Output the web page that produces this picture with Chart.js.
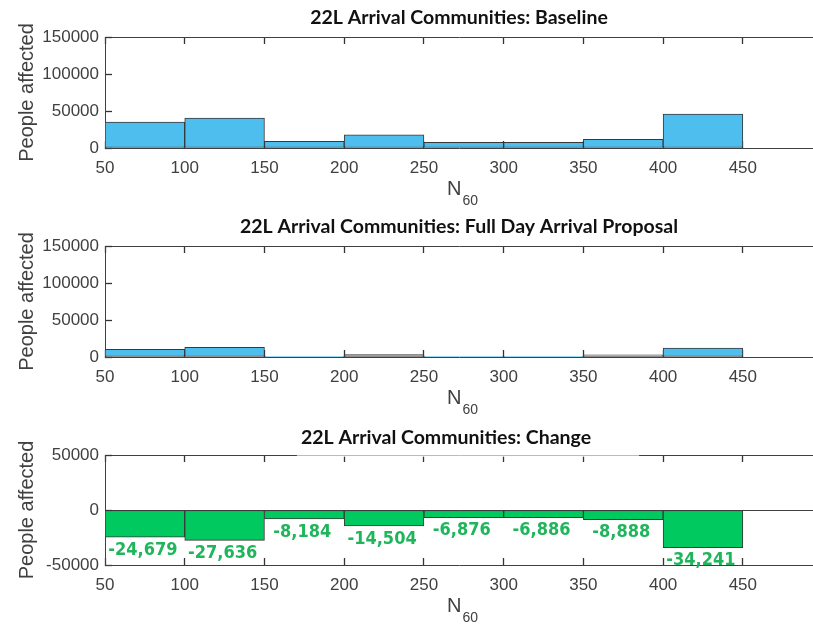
<!DOCTYPE html>
<html><head><meta charset="utf-8">
<script src="https://cdn.jsdelivr.net/npm/chart.js@4.4.1/dist/chart.umd.min.js"></script>
<style>
html,body{margin:0;padding:0;background:#fff;overflow:hidden;}
#wrap{position:relative;width:813px;height:627px;background:#fff;}
canvas{position:absolute;left:0;}
</style></head><body>
<div id="wrap">
<canvas id="c1" width="813" height="210" style="top:0px"></canvas>
<canvas id="c2" width="813" height="208" style="top:210px"></canvas>
<canvas id="c3" width="813" height="209" style="top:418px"></canvas>
</div>
<script>
// ---- data ----
const binCenters = [75, 125, 175, 225, 275, 325, 375, 425, 475];
const baselinePeople = [35000, 40500, 9000, 17800, 7700, 7700, 11800, 46000, 0];
const proposalPeople = [10300, 13200, 800, 3300, 800, 800, 2900, 12000, 0];
const changePeople = [-24679, -27636, -8184, -14504, -6876, -6886, -8888, -34241, 0];
const xTickValues = [50, 100, 150, 200, 250, 300, 350, 400, 450];
const yTicksPeople = [0, 50000, 100000, 150000];
const yTicksChange = [-50000, 0, 50000];
const panelTitles = [
  '22L Arrival Communities: Baseline',
  '22L Arrival Communities: Full Day Arrival Proposal',
  '22L Arrival Communities: Change'
];
const yAxisTitle = 'People affected';
const xAxisTitleMain = 'N';
const xAxisTitleSub = '60';

// ---- styles ----
const AX = '#404040';
const tickFont = {family: 'Liberation Sans, Arial, sans-serif', size: 17};
const titleFont = {family: 'Lato, sans-serif', size: 19.5, weight: 'bold'};

const xLabel = {
  id: 'xLabel',
  afterDraw(chart) {
    const ctx = chart.ctx;
    const a = chart.chartArea;
    const cx = (a.left + a.right) / 2 + 3;
    ctx.save();
    ctx.fillStyle = AX;
    ctx.textBaseline = 'middle';
    ctx.font = '20px "Liberation Sans", Arial, sans-serif';
    const wN = ctx.measureText(xAxisTitleMain).width;
    ctx.font = '14px "Liberation Sans", Arial, sans-serif';
    const wS = ctx.measureText(xAxisTitleSub).width;
    const x0 = cx - (wN + wS) / 2;
    ctx.font = '20px "Liberation Sans", Arial, sans-serif';
    ctx.textAlign = 'left';
    ctx.fillText(xAxisTitleMain, x0, a.bottom + 41);
    ctx.font = '14px "Liberation Sans", Arial, sans-serif';
    ctx.fillText(xAxisTitleSub, x0 + wN + 1, a.bottom + 53);
    ctx.restore();
  }
};

const changeLabels = {
  id: 'changeLabels',
  afterLayout(chart) {
    chart.titleBlock.left -= 13;
    chart.titleBlock.right -= 13;
  },
  afterDatasetsDraw(chart) {
    const ctx = chart.ctx;
    const meta = chart.getDatasetMeta(0);
    ctx.save();
    ctx.fillStyle = '#1fb55a';
    ctx.font = 'bold 18px "DejaVu Sans Condensed", "DejaVu Sans", sans-serif';
    ctx.textAlign = 'center';
    ctx.textBaseline = 'middle';
    meta.data.forEach((bar, i) => {
      const v = changePeople[i];
      if (!v) return;
      ctx.fillText(v.toLocaleString('en-US'), bar.x - 2, bar.y + 13);
    });
    ctx.restore();
  },
  afterDraw(chart) {
    const ctx = chart.ctx;
    const a = chart.chartArea;
    const tb = chart.titleBlock;
    ctx.save();
    ctx.font = 'bold 19.5px Lato, sans-serif';
    const w = ctx.measureText(panelTitles[2]).width;
    const cx = (tb.left + tb.right) / 2;
    const left = cx - w / 2 - 4;
    ctx.fillStyle = 'rgba(255,255,255,0.65)';
    ctx.fillRect(left, a.top - 2, w + 52, 4);
    ctx.restore();
  }
};

function makePanel(id, cfg) {
  const canvas = document.getElementById(id);
  const H = canvas.height;
  const yMax = cfg.yTicks[cfg.yTicks.length - 1];
  const inwardGrid = {display: true, drawOnChartArea: false, drawTicks: true, tickLength: -7,
                      tickColor: '#333', tickWidth: 1.3, offset: false};
  return new Chart(canvas, {
    type: 'bar',
    data: {
      datasets: [{
        data: binCenters.map((x, i) => ({x: x, y: cfg.values[i]})),
        backgroundColor: cfg.fill,
        borderColor: '#383838',
        borderWidth: 1,
        borderSkipped: false,
        barPercentage: 1,
        categoryPercentage: 1,
        grouped: false
      }]
    },
    options: {
      responsive: false,
      animation: false,
      devicePixelRatio: 1,
      layout: {padding: 0},
      plugins: {
        legend: {display: false},
        tooltip: {enabled: false},
        title: {
          display: true, text: cfg.title, fullSize: false,
          font: titleFont, color: '#111',
          padding: {top: cfg.titleTop, bottom: cfg.areaTop - cfg.titleTop - 23.4}
        }
      },
      scales: {
        x: {
          type: 'linear', position: 'bottom', min: 50, max: 494, offset: false,
          afterBuildTicks: s => { s.ticks = xTickValues.map(v => ({value: v})); },
          afterFit: s => { s.height = H - cfg.areaBottom; },
          grid: inwardGrid,
          border: {display: true, color: AX, width: 1},
          ticks: {padding: 17, font: tickFont, color: AX, maxRotation: 0, autoSkip: false,
                  callback: v => String(v)}
        },
        xTop: {
          type: 'linear', position: 'top', min: 50, max: 494, offset: false,
          afterBuildTicks: s => { s.ticks = xTickValues.map(v => ({value: v})); },
          afterFit: s => { s.height = 0; },
          grid: inwardGrid,
          border: {display: false},
          ticks: {display: false}
        },
        y: {
          min: cfg.yTicks[0], max: yMax,
          afterBuildTicks: s => { s.ticks = cfg.yTicks.map(v => ({value: v})); },
          afterFit: s => { s.width = 105; },
          grid: {
            drawTicks: true, tickLength: -7, tickColor: '#333', tickWidth: 1.3, lineWidth: 1,
            color: c => (c.tick && (c.tick.value === yMax || (cfg.zeroLine && c.tick.value === 0))) ? AX : 'rgba(0,0,0,0)'
          },
          border: {display: true, color: AX, width: 1},
          ticks: {padding: 13, font: tickFont, color: AX, callback: v => String(v)},
          title: {
            display: true, text: yAxisTitle,
            font: {family: 'Liberation Sans, Arial, sans-serif', size: 20},
            color: AX, padding: {top: 15, bottom: 0}
          }
        }
      }
    },
    plugins: cfg.labels ? [xLabel, changeLabels] : [xLabel]
  });
}

makePanel('c1', {title: panelTitles[0], values: baselinePeople, yTicks: yTicksPeople, fill: '#4dbeee', areaTop: 37, areaBottom: 148, titleTop: 6});
makePanel('c2', {title: panelTitles[1], values: proposalPeople, yTicks: yTicksPeople, fill: '#4dbeee', areaTop: 36, areaBottom: 147, titleTop: 5});
makePanel('c3', {title: panelTitles[2], values: changePeople, yTicks: yTicksChange, fill: '#00c95f', areaTop: 37, areaBottom: 147, titleTop: 8, zeroLine: true, labels: true});
</script>
</body></html>
